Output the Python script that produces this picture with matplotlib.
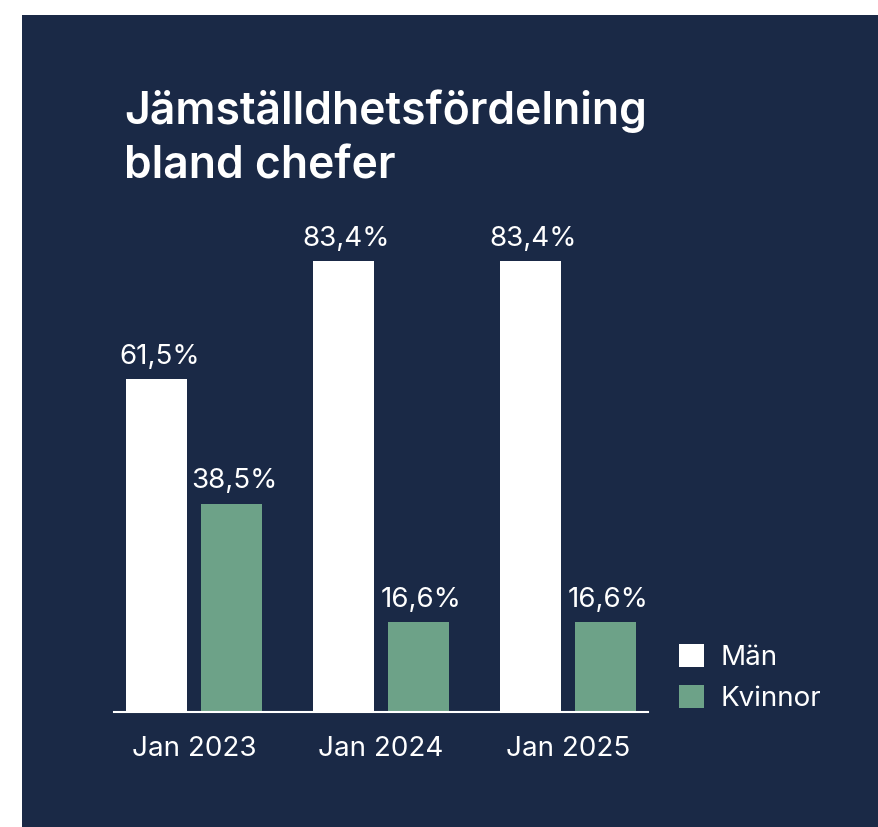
import matplotlib
matplotlib.use('Agg')
import matplotlib.pyplot as plt
from matplotlib.patches import Rectangle
import numpy as np

categories = ['Jan 2023', 'Jan 2024', 'Jan 2025']
man_values = [61.5, 83.4, 83.4]
kvinnor_values = [38.5, 16.6, 16.6]
series_names = ['Män', 'Kvinnor']
title = 'Jämställdhetsfördelning\nbland chefer'

navy = '#1a2946'
green = '#6da288'
plt.rcParams['font.family'] = ['Inter', 'DejaVu Sans']


def fmt(v):
    return f'{v:.1f}'.replace('.', ',') + '%'


fig = plt.figure(figsize=(8.79, 8.27), dpi=100)
fig.patch.set_facecolor('white')
# navy panel, leaving a thin white strip at top and left
fig.patches.append(Rectangle((22 / 879, 0), 1 - 22 / 879, 1 - 15 / 827,
                             transform=fig.transFigure, facecolor=navy,
                             edgecolor='none', zorder=-10))

ax = fig.add_axes([114 / 879, 115 / 827, 534 / 879, 541 / 827])
ax.set_facecolor('none')

x = np.arange(len(categories))
width = 0.325
offset = 0.2
bars_m = ax.bar(x - offset, man_values, width, color='white', label=series_names[0])
bars_k = ax.bar(x + offset, kvinnor_values, width, color=green, label=series_names[1])

for bars, vals in [(bars_m, man_values), (bars_k, kvinnor_values)]:
    for b, v in zip(bars, vals):
        ax.annotate(fmt(v), xy=(b.get_x() + b.get_width() / 2, v),
                    xytext=(2, 11), textcoords='offset points',
                    ha='center', va='baseline', color='white', fontsize=20,
                    annotation_clip=False)

ax.set_xlim(-0.427, 2.427)
ax.set_ylim(0, 100)
ax.set_xticks(x)
ax.set_xticklabels(categories, color='white', fontsize=20)
ax.tick_params(axis='x', length=0, pad=17)
ax.set_yticks([])
for s in ['top', 'left', 'right']:
    ax.spines[s].set_visible(False)
ax.spines['bottom'].set_color('white')
ax.spines['bottom'].set_linewidth(1.5)

fig.text(124 / 879, 1 - 89 / 827, title, color='white', fontsize=32,
         fontweight='semibold', ha='left', va='top', linespacing=1.38)

leg = ax.legend(loc='upper left', bbox_to_anchor=(679 / 879, 1 - 644 / 827),
                bbox_transform=fig.transFigure, frameon=False, fontsize=20,
                handlelength=0.9, handleheight=0.9, handletextpad=0.6,
                labelspacing=0.5, borderpad=0, borderaxespad=0)
for t in leg.get_texts():
    t.set_color('white')

fig.savefig('out.png', dpi=100, facecolor=fig.get_facecolor())
